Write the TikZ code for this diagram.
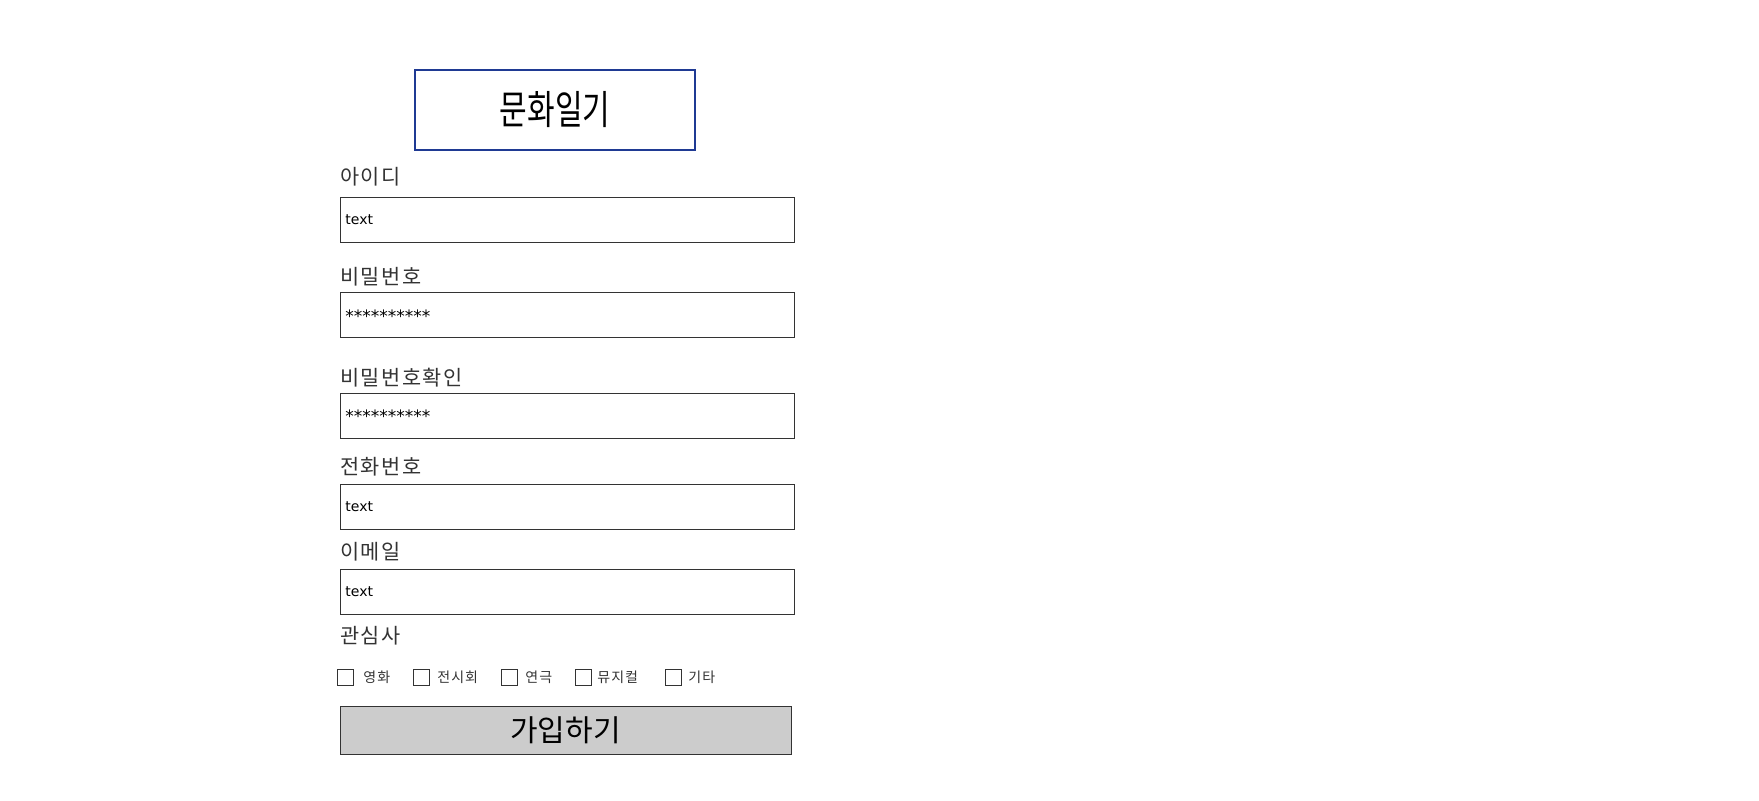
\documentclass[tikz,border=0pt]{standalone}
\usepackage{fontspec}
\usepackage{xcolor}
\usepackage{tikz}
\setmainfont{Noto Sans CJK KR}
\newfontfamily\titlefont[FakeStretch=0.75]{Noto Sans CJK KR}
\newfontfamily\labelfont[LetterSpace=7]{Noto Sans CJK KR}
\newfontfamily\fieldfont{DejaVu Sans}
\definecolor{titleblue}{HTML}{1F3A93}
\definecolor{linegray}{HTML}{333333}
\definecolor{btngray}{HTML}{CCCCCC}

\begin{document}
\begin{tikzpicture}[x=0.5pt,y=-0.5pt]
     \useasboundingbox (0,0) rectangle (1759,800);

     \tikzstyle{titlebox}=[rectangle,draw=titleblue,line width=1.1pt,minimum width=140pt,minimum height=40pt,inner sep=0pt,font=\titlefont\fontsize{20}{20}\selectfont]
     \tikzstyle{label}=[anchor=west,inner sep=0pt,text=linegray,font=\labelfont\fontsize{10.4}{10.4}\selectfont]
     \tikzstyle{field}=[rectangle,draw=linegray,line width=0.5pt,minimum width=227pt,minimum height=22.5pt,inner sep=0pt]
     \tikzstyle{fieldtext}=[anchor=west,inner sep=0pt,font=\fieldfont\fontsize{7}{7}\selectfont]
     \tikzstyle{checkbox}=[rectangle,draw=linegray,line width=0.5pt,minimum size=8pt,inner sep=0pt]
     \tikzstyle{checklabel}=[anchor=west,inner sep=0pt,text=linegray,font=\labelfont\fontsize{7}{7}\selectfont]
     \tikzstyle{button}=[rectangle,draw=linegray,fill=btngray,line width=0.5pt,minimum width=225.5pt,minimum height=24pt,inner sep=0pt,font=\fontsize{15}{15}\selectfont]

     \node[titlebox] (title) at (555,110) {문화일기};

     \node[label] (lid) at (340,177) {아이디};
     \node[field] (fid) at (567,219.5) {};
     \node[fieldtext] (tid) at (345,219.5) {text};

     \node[label] (lpw) at (340,277) {비밀번호};
     \node[field] (fpw) at (567,315) {};
     \node[fieldtext] (tpw) at (345,316) {\fontsize{8.5}{8.5}\selectfont**********};

     \node[label] (lpwc) at (340,378) {비밀번호확인};
     \node[field] (fpwc) at (567,415.5) {};
     \node[fieldtext] (tpwc) at (345,416.5) {\fontsize{8.5}{8.5}\selectfont**********};

     \node[label] (ltel) at (340,467) {전화번호};
     \node[field] (ftel) at (567,506.5) {};
     \node[fieldtext] (ttel) at (345,506.5) {text};

     \node[label] (lmail) at (340,552) {이메일};
     \node[field] (fmail) at (567,592) {};
     \node[fieldtext] (tmail) at (345,592) {text};

     \node[label] (lint) at (340,636) {관심사};

     \node[checkbox] (c1) at (345,677.5) {};
     \node[checklabel] (l1) at (363,677.5) {영화};
     \node[checkbox] (c2) at (421,677.5) {};
     \node[checklabel] (l2) at (437,677.5) {전시회};
     \node[checkbox] (c3) at (509.5,677.5) {};
     \node[checklabel] (l3) at (525,677.5) {연극};
     \node[checkbox] (c4) at (583,677.5) {};
     \node[checklabel] (l4) at (597,677.5) {뮤지컬};
     \node[checkbox] (c5) at (673,677.5) {};
     \node[checklabel] (l5) at (688,677.5) {기타};

     \node[button] (join) at (565.5,730) {가입하기};
\end{tikzpicture}
\end{document}
